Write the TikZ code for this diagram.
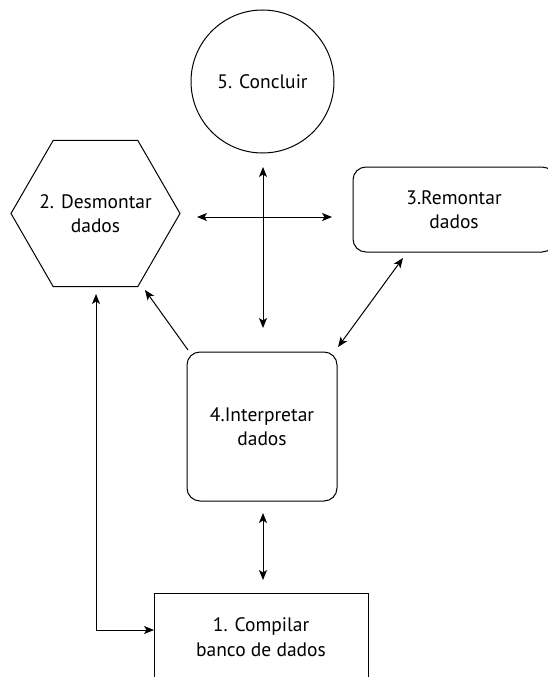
\documentclass[tikz,border=0pt]{standalone}
\usepackage{fontspec}
\setmainfont{PT Sans}
\usetikzlibrary{shapes.geometric,arrows.meta}
\begin{document}
\begin{tikzpicture}[x=1pt,y=-1pt,
  every node/.style={font=\fontsize{19.5}{24.5}\selectfont, align=center,
    inner sep=0pt, outer sep=0pt},
  shapeline/.style={draw, line width=1pt},
  tip/.tip={Stealth[length=10pt,width=8pt,inset=2.5pt]},
  link/.style={line width=1pt, -tip},
  twoway/.style={line width=1pt, tip-tip}]
\useasboundingbox (0,0) rectangle (548,677);
\clip (0,0) rectangle (548,677);

% the five stages
\node[shapeline, circle, minimum size=143pt] (concluir) at (262.5,81.5) {5. Concluir};
% hexagon keeps its size fixed; its text is set as a centred label
\node[shapeline, regular polygon, regular polygon sides=6, minimum size=169pt,
  label={[name=desmontar-text]center:{2. Desmontar\\dados}}]
  (desmontar) at (95.5,213.5) {};
\node[shapeline, rounded corners=13pt, minimum width=202pt, minimum height=85pt]
  (remontar) at (454,209.5) {3.Remontar\\dados};
\node[shapeline, rounded corners=13pt, minimum width=150pt, minimum height=149pt]
  (interpretar) at (262,426.5) {4.Interpretar\\dados};
\node[shapeline, minimum width=214pt, minimum height=88pt]
  (compilar) at (261,637) {1. Compilar\\banco de dados};

% free ends of the connectors
\coordinate (hL) at (197,217);
\coordinate (hR) at (332,217);
\coordinate (vT) at (263,167);
\coordinate (vB) at (263,328);
\coordinate (dA) at (338,347);
\coordinate (dB) at (403,258);
\coordinate (iT) at (188,350);
\coordinate (iD) at (145,290);
\coordinate (sT) at (263,513);
\coordinate (sB) at (263,580);
\coordinate (eT) at (96,294);

% connectors
\draw[twoway] (hL) -- (hR);
\draw[twoway] (vT) -- (vB);
\draw[twoway] (dA) -- (dB);
\draw[link] (iT) -- (iD);
\draw[twoway] (sT) -- (sB);
\draw[twoway] (eT) |- ([yshift=7pt]compilar.west);
\end{tikzpicture}
\end{document}
